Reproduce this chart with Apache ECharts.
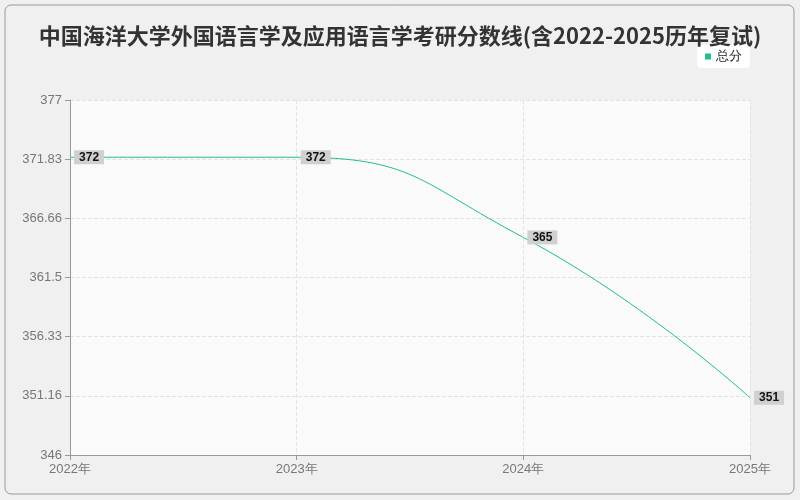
<!DOCTYPE html>
<html><head><meta charset="utf-8">
<script src="https://cdn.jsdelivr.net/npm/echarts@6/dist/echarts.min.js"></script>
<style>html,body{margin:0;padding:0;background:#f0f0f0}#c{width:800px;height:500px}</style>
</head><body><div id="c"></div>
<script>
const categories = ['2022年','2023年','2024年','2025年'];
const values = [372, 372, 365, 351];
const yTickLabels = ['346','351.16','356.33','361.5','366.66','371.83','377'];
const chart = echarts.init(document.getElementById('c'));
chart.setOption({
  backgroundColor: '#f0f0f0',
  graphic: [{type:'rect',shape:{x:5,y:5,width:789,height:489,r:6},style:{fill:'none',stroke:'#999',lineWidth:1}, z:-1}],
  title: {text:'中国海洋大学外国语言学及应用语言学考研分数线(含2022-2025历年复试)', left:'center', top:20,
    textStyle:{fontSize:22, fontWeight:'bold', color:'#333', fontFamily:'Noto Sans CJK SC'}},
  legend: {data:['总分'], right:50, top:45, backgroundColor:'#fff', borderRadius:4, padding:[5,8],
    itemWidth:6, itemHeight:6, icon:'rect', textStyle:{fontSize:13,color:'#222'}},
  grid: {left:70, right:50, top:100, bottom:45, show:true, backgroundColor:'#fafafa', borderWidth:0},
  xAxis: {type:'category', data:categories, boundaryGap:false,
    axisLine:{lineStyle:{color:'#999'}}, axisTick:{show:true,lineStyle:{color:'#999'}},
    axisLabel:{color:'#777', fontSize:13},
    splitLine:{show:true, lineStyle:{type:'dashed', color:'#e3e3e3'}}},
  yAxis: {type:'value', min:346, max:377, interval:31/6,
    axisLine:{show:true, lineStyle:{color:'#999'}}, axisTick:{show:true},
    axisLabel:{color:'#777', fontSize:13, formatter:v=>yTickLabels[Math.round((v-346)/(31/6))]},
    splitLine:{lineStyle:{type:'dashed', color:'#e3e3e3'}}},
  series: [{name:'总分', type:'line', data:values, smooth:0.5, smoothMonotone:'none',
    symbol:'circle', symbolSize:0.1, showSymbol:true,
    itemStyle:{color:'#1fbf8f'}, lineStyle:{width:1, color:'#1fbf8f'},
    label:{show:true, position:'right', distance:4, color:'#111', fontWeight:'bold', fontSize:12,
      backgroundColor:'#d0d0d0', padding:[1,5]}}]
});
</script></body></html>
